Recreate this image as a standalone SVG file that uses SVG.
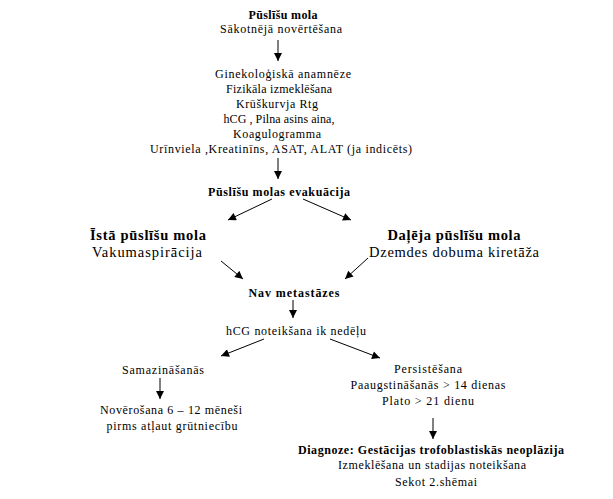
<svg xmlns="http://www.w3.org/2000/svg" width="613" height="499" viewBox="0 0 613 499">
<defs>
<marker id="ah" viewBox="0 0 10 10" refX="10" refY="5" markerWidth="9" markerHeight="8" markerUnits="userSpaceOnUse" orient="auto">
<path d="M0,0 L10,5 L0,10 z" fill="#000"/>
</marker>
</defs>
<style>
text{font-size:12px;fill:#000;text-anchor:middle}
.b{font-weight:bold}
.l{font-size:14.5px}
.c line{stroke:#000;stroke-width:1;marker-end:url(#ah)}
</style>
<rect width="613" height="499" fill="#fff"/>
<g font-family="'Liberation Serif', 'Times New Roman', Tinos, 'DejaVu Serif', serif" lengthAdjust="spacing">
<g id="n1">
<text x="283" y="19" class="b" textLength="69" lengthAdjust="spacing">Pūslīšu mola</text>
<text x="281" y="33" textLength="122" lengthAdjust="spacing">Sākotnējā novērtēšana</text>
</g>
<g id="n2">
<text x="283" y="78" textLength="136" lengthAdjust="spacing">Ginekoloģiskā anamnēze</text>
<text x="279" y="93" textLength="106" lengthAdjust="spacing">Fizikāla izmeklēšana</text>
<text x="277" y="108" textLength="82" lengthAdjust="spacing">Krūškurvja Rtg</text>
<text x="279" y="123" textLength="111" lengthAdjust="spacing">hCG , Pilna asins aina,</text>
<text x="277" y="138" textLength="88" lengthAdjust="spacing">Koagulogramma</text>
<text x="281" y="153" textLength="262" lengthAdjust="spacing">Urīnviela ,Kreatinīns, ASAT, ALAT (ja indicēts)</text>
</g>
<g id="n3">
<text x="279" y="196" class="b" textLength="142" lengthAdjust="spacing">Pūslīšu molas evakuācija</text>
</g>
<g id="n4">
<text x="148" y="240" class="b l" textLength="116" lengthAdjust="spacing">Īstā pūslīšu mola</text>
<text x="147" y="257" class="l" textLength="110" lengthAdjust="spacing">Vakumaspirācija</text>
</g>
<g id="n5">
<text x="454" y="240" class="b l" textLength="133" lengthAdjust="spacing">Daļēja pūslīšu mola</text>
<text x="454" y="257" class="l" textLength="170" lengthAdjust="spacing">Dzemdes dobuma kiretāža</text>
</g>
<g id="n6">
<text x="294" y="297" class="b" textLength="91" lengthAdjust="spacing">Nav metastāzes</text>
</g>
<g id="n7">
<text x="296" y="335" textLength="140" lengthAdjust="spacing">hCG noteikšana ik nedēļu</text>
</g>
<g id="n8">
<text x="163" y="374" textLength="82" lengthAdjust="spacing">Samazināšanās</text>
</g>
<g id="n9">
<text x="171" y="414" textLength="142" lengthAdjust="spacing">Novērošana 6 – 12 mēneši</text>
<text x="172" y="430" textLength="131" lengthAdjust="spacing">pirms atļaut grūtniecību</text>
</g>
<g id="n10">
<text x="428" y="373" textLength="68" lengthAdjust="spacing">Persistēšana</text>
<text x="428" y="389" textLength="155" lengthAdjust="spacing">Paaugstināšanās &gt; 14 dienas</text>
<text x="428" y="405" textLength="92" lengthAdjust="spacing">Plato &gt; 21 dienu</text>
</g>
<g id="n11">
<text x="431" y="454" class="b" textLength="266" lengthAdjust="spacing">Diagnoze: Gestācijas trofoblastiskās neoplāzija</text>
<text x="432" y="469" textLength="188" lengthAdjust="spacing">Izmeklēšana un stadijas noteikšana</text>
<text x="436" y="486" textLength="82" lengthAdjust="spacing">Sekot 2.shēmai</text>
</g>
</g>
<g class="c" id="connectors">
<line x1="278" y1="40" x2="278" y2="61"/>
<line x1="278" y1="158" x2="278" y2="179"/>
<line x1="272" y1="199" x2="228" y2="220"/>
<line x1="303" y1="199" x2="351" y2="220"/>
<line x1="221" y1="261" x2="243" y2="279"/>
<line x1="368" y1="258" x2="345" y2="279"/>
<line x1="293" y1="300" x2="293" y2="318"/>
<line x1="264" y1="339" x2="221" y2="356"/>
<line x1="330" y1="339" x2="380" y2="358"/>
<line x1="160" y1="378" x2="160" y2="399"/>
<line x1="433" y1="418" x2="433" y2="439"/>
</g>
</svg>
